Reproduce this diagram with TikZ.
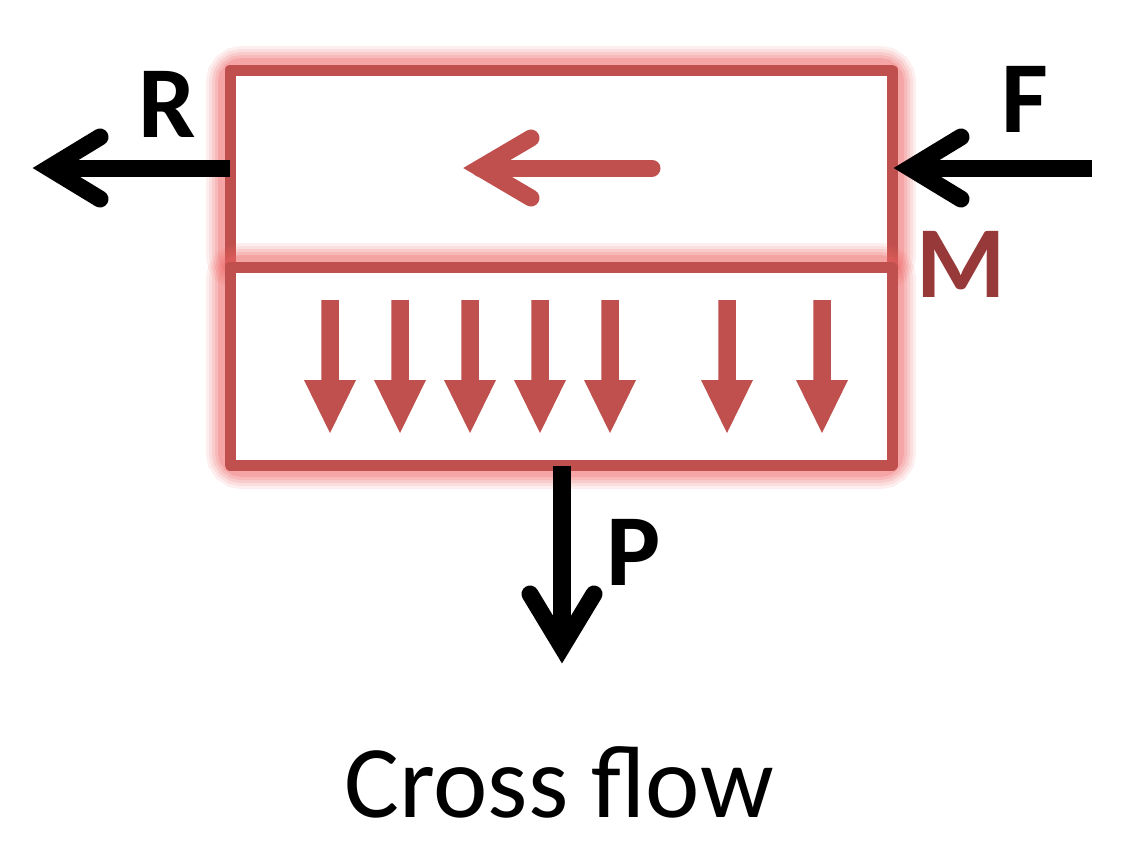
\documentclass[tikz,border=0pt]{standalone}
\usepackage{fontspec}
\setmainfont{Carlito}
\definecolor{boxred}{HTML}{C0504D}
\definecolor{darkred}{HTML}{983939}
\definecolor{glowcol}{RGB}{238,100,100}
\tikzset{
  boxline/.style={draw=boxred, line width=11pt, line join=round},
  glowline/.style={draw=glowcol, rounded corners=12pt},
  shaft/.style={line width=17pt, line cap=butt},
  chevron/.style={line width=17pt, line cap=round, line join=miter, miter limit=10},
  redshaft/.style={draw=boxred, line width=17pt, line cap=round},
  downarrow/.style={fill=boxred},
  lbl/.style={inner sep=0pt, anchor=base, font=\fontsize{102}{110}\selectfont\bfseries},
  title/.style={inner sep=0pt, anchor=base, font=\fontsize{103}{110}\selectfont}
}
\begin{document}
\begin{tikzpicture}[x=1pt,y=-1pt]
\useasboundingbox (0,0) rectangle (1126,849);
% box corners
\coordinate (TL) at (230,70);
\coordinate (MR) at (892,267);
\coordinate (ML) at (230,267);
\coordinate (BR) at (892,465);
% upper box
\foreach \w/\o in {48/0.10,42/0.12,36/0.15,30/0.18,24/0.24}{
  \draw[glowline, line width=\w pt, opacity=\o] (TL) rectangle (MR);
}
\fill[white] (TL) rectangle (MR);
\draw[boxline] (TL) rectangle (MR);
% lower box
\foreach \w/\o in {48/0.10,42/0.12,36/0.15,30/0.18,24/0.24}{
  \draw[glowline, line width=\w pt, opacity=\o] (ML) rectangle (BR);
}
\fill[white] (ML) rectangle (BR);
\draw[boxline] (ML) rectangle (BR);
% red flow arrow in upper box
\coordinate (fs) at (652,168);
\coordinate (fv) at (480,168);
\coordinate (fa1) at (531,138);
\coordinate (fa2) at (531,198);
\draw[redshaft] (fs) -- (fv);
\draw[chevron, draw=boxred] (fa1) -- (fv) -- (fa2);
% red down arrows
\foreach \cx [count=\i] in {330,400,470,540,610,727,822}{
  \fill[downarrow] (\cx-8.75,300) -- (\cx+8.75,300) -- (\cx+8.75,380) -- (\cx+26,380)
     -- (\cx,433) -- (\cx-26,380) -- (\cx-8.75,380) -- cycle;
}
% R arrow
\coordinate (Rs) at (230,168);
\coordinate (Rv) at (49,168);
\coordinate (Ra1) at (100,137);
\coordinate (Ra2) at (100,199);
\draw[shaft] (Rs) -- (Rv);
\draw[chevron] (Ra1) -- (Rv) -- (Ra2);
% F arrow
\coordinate (Fs) at (1092,168);
\coordinate (Fv) at (910,168);
\coordinate (Fa1) at (961,137);
\coordinate (Fa2) at (961,199);
\draw[shaft] (Fs) -- (Fv);
\draw[chevron] (Fa1) -- (Fv) -- (Fa2);
% P arrow
\coordinate (Ps) at (562,466);
\coordinate (Pv) at (562,647);
\coordinate (Pa1) at (530,594);
\coordinate (Pa2) at (594,594);
\draw[shaft, line width=18pt] (Ps) -- (Pv);
\draw[chevron] (Pa1) -- (Pv) -- (Pa2);
% labels
\node[lbl] (R) at (167,137) {R};
\node[lbl] (F) at (1025,132) {F};
\node[lbl, text=darkred] (M) at (961,297) {M};
\node[lbl] (P) at (634,585) {P};
\node[title] (cap) at (559,817) {Cross f{}low};
\end{tikzpicture}
\end{document}
